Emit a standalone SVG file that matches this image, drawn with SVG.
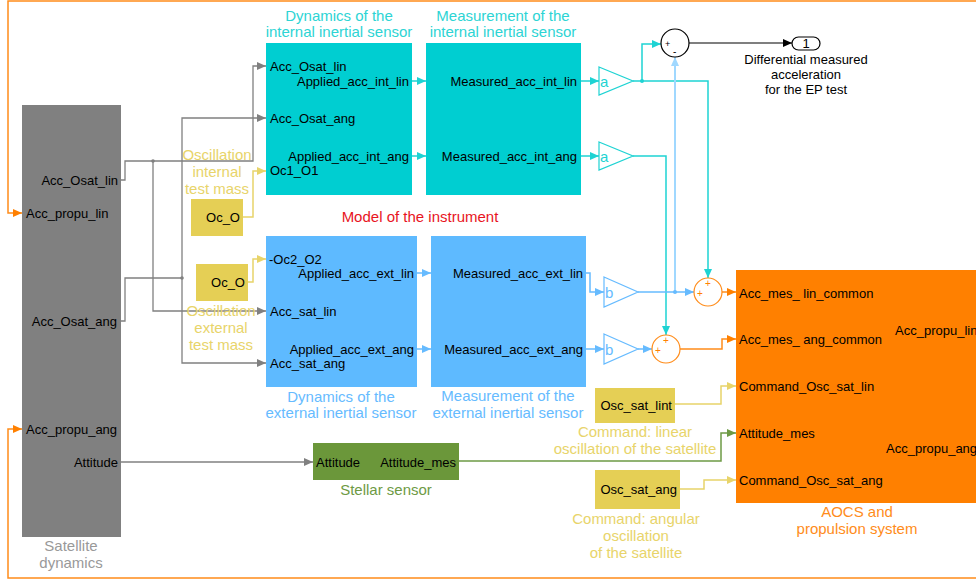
<svg xmlns="http://www.w3.org/2000/svg" width="976" height="579" viewBox="0 0 976 579">
<style>
text{font-family:"Liberation Sans",Arial,sans-serif;font-size:13px;fill:#000}
.t{font-size:15px}
.e{text-anchor:end}
.m{text-anchor:middle}
.w{fill:none;stroke-width:1.3}
.g{stroke:#808080}
.c{stroke:#1ED3D3;stroke-width:1.5}
.lb{stroke:#66BBFF;stroke-width:1.5}
.lb2{stroke:#A0D8FF;stroke-width:2}
.o{stroke:#FF8C1A;stroke-width:1.5}
.y{stroke:#E8D46A;stroke-width:1.5}
.gr{stroke:#6E9A45;stroke-width:1.5}
.k{stroke:#000;stroke-width:1.2}
</style>
<defs>
<marker id="ag" markerUnits="userSpaceOnUse" markerWidth="10" markerHeight="10" refX="9" refY="4" orient="auto"><path d="M0,0L9,4L0,8z" fill="#808080"/></marker>
<marker id="ac" markerUnits="userSpaceOnUse" markerWidth="10" markerHeight="10" refX="9" refY="4" orient="auto"><path d="M0,0L9,4L0,8z" fill="#1ED3D3"/></marker>
<marker id="al" markerUnits="userSpaceOnUse" markerWidth="10" markerHeight="10" refX="9" refY="4" orient="auto"><path d="M0,0L9,4L0,8z" fill="#66BBFF"/></marker>
<marker id="al2" markerUnits="userSpaceOnUse" markerWidth="10" markerHeight="10" refX="9" refY="4" orient="auto"><path d="M0,0L9,4L0,8z" fill="#A0D8FF"/></marker>
<marker id="ao" markerUnits="userSpaceOnUse" markerWidth="10" markerHeight="10" refX="9" refY="4" orient="auto"><path d="M0,0L9,4L0,8z" fill="#FF8000"/></marker>
<marker id="ay" markerUnits="userSpaceOnUse" markerWidth="10" markerHeight="10" refX="9" refY="4" orient="auto"><path d="M0,0L9,4L0,8z" fill="#E8D46A"/></marker>
<marker id="agr" markerUnits="userSpaceOnUse" markerWidth="10" markerHeight="10" refX="9" refY="4" orient="auto"><path d="M0,0L9,4L0,8z" fill="#6E9A45"/></marker>
<marker id="ak" markerUnits="userSpaceOnUse" markerWidth="10" markerHeight="10" refX="9" refY="4" orient="auto"><path d="M0,0L9,4L0,8z" fill="#000"/></marker>
</defs>
<rect width="976" height="579" fill="#fff"/>

<g id="connectors">
<!-- feedback orange -->
<path class="w o" d="M976,1H8V213H22" marker-end="url(#ao)"/>
<path class="w o" d="M976,578H8V429H22" marker-end="url(#ao)"/>
<!-- gray from satellite -->
<path class="w g" d="M121,180H125V161H253V66H266" marker-end="url(#ag)"/>
<path class="w g" d="M153,161V311H266" marker-end="url(#ag)"/>
<path class="w g" d="M121,321H125V278H182"/>
<path class="w g" d="M182,278V118H266" marker-end="url(#ag)"/>
<path class="w g" d="M182,278V363H266" marker-end="url(#ag)"/>
<path class="w g" d="M121,462H313" marker-end="url(#ag)"/>
<circle cx="153" cy="161" r="1.8" fill="#808080"/>
<circle cx="182" cy="278" r="1.8" fill="#808080"/>
<!-- oscillation test mass -->
<path class="w y" d="M243,217H253V171H266" marker-end="url(#ay)"/>
<path class="w y" d="M248,282H253V259H266" marker-end="url(#ay)"/>
<!-- internal -->
<path class="w c" d="M412,81H426" marker-end="url(#ac)"/>
<path class="w c" d="M412,156H426" marker-end="url(#ac)"/>
<path class="w c" d="M581,81H599" marker-end="url(#ac)"/>
<path class="w c" d="M581,156H599" marker-end="url(#ac)"/>
<path class="w c" d="M633,81H708V278" marker-end="url(#ac)"/>
<path class="w c" d="M642,81V44H661" marker-end="url(#ac)"/>
<circle cx="642" cy="81" r="2" fill="#1ED3D3"/>
<path class="w c" d="M633,156H666V335" marker-end="url(#ac)"/>
<!-- external -->
<path class="w lb" d="M417,273H431" marker-end="url(#al)"/>
<path class="w lb" d="M417,349H431" marker-end="url(#al)"/>
<path class="w lb" d="M586,273H590V292H604" marker-end="url(#al)"/>
<path class="w lb" d="M586,349H604" marker-end="url(#al)"/>
<path class="w lb" d="M638,292H694" marker-end="url(#al)"/>
<path class="w lb" d="M638,349H652" marker-end="url(#al)"/>
<path class="w lb2" d="M675,292V57" marker-end="url(#al2)"/>
<circle cx="675" cy="292" r="2" fill="#66BBFF"/>
<!-- sums to AOCS -->
<path class="w o" d="M722,292H736" marker-end="url(#ao)"/>
<path class="w o" d="M680,349H722V339H736" marker-end="url(#ao)"/>
<path class="w y" d="M675,404H721V386H736" marker-end="url(#ay)"/>
<path class="w gr" d="M459,461H721V433H736" marker-end="url(#agr)"/>
<path class="w y" d="M680,489H704V480H736" marker-end="url(#ay)"/>
<!-- output -->
<path class="w k" d="M689,43H792" marker-end="url(#ak)"/>
</g>

<g id="satellite">
<rect x="22" y="105" width="99" height="432" fill="#808080"/>
<text x="118" y="185" class="e">Acc_Osat_lin</text>
<text x="26" y="218">Acc_propu_lin</text>
<text x="117" y="326" class="e">Acc_Osat_ang</text>
<text x="26" y="434">Acc_propu_ang</text>
<text x="118" y="467" class="e">Attitude</text>
<text x="71" y="551" class="m t" style="fill:#999">Satellite</text>
<text x="71" y="568" class="m t" style="fill:#999">dynamics</text>
</g>

<g id="dyn-int">
<rect x="266" y="43" width="146" height="152" fill="#00CED1"/>
<text x="270" y="71">Acc_Osat_lin</text>
<text x="409" y="86" class="e">Applied_acc_int_lin</text>
<text x="270" y="123">Acc_Osat_ang</text>
<text x="409" y="161" class="e">Applied_acc_int_ang</text>
<text x="270" y="175">Oc1_O1</text>
<text x="339" y="21" class="m t" style="fill:#2DD4D4">Dynamics of the</text>
<text x="339" y="37" class="m t" style="fill:#2DD4D4">internal inertial sensor</text>
</g>

<g id="meas-int">
<rect x="426" y="43" width="155" height="152" fill="#00CED1"/>
<text x="577" y="86" class="e">Measured_acc_int_lin</text>
<text x="577" y="161" class="e">Measured_acc_int_ang</text>
<text x="503" y="21" class="m t" style="fill:#2DD4D4">Measurement of the</text>
<text x="503" y="37" class="m t" style="fill:#2DD4D4">internal inertial sensor</text>
</g>

<g id="osc-int">
<rect x="191" y="199" width="52" height="37" fill="#E5CF55"/>
<text x="240" y="222" class="e">Oc_O</text>
<text x="217" y="160" class="m t" style="fill:#E8D46A">Oscillation</text>
<text x="217" y="177" class="m t" style="fill:#E8D46A">internal</text>
<text x="217" y="194" class="m t" style="fill:#E8D46A">test mass</text>
</g>

<text x="420" y="222" class="m t" style="fill:#E8141E">Model of the instrument</text>

<g id="dyn-ext">
<rect x="266" y="236" width="151" height="151" fill="#5EBAFF"/>
<text x="269" y="264">-Oc2_O2</text>
<text x="414" y="278" class="e">Applied_acc_ext_lin</text>
<text x="270" y="316">Acc_sat_lin</text>
<text x="414" y="354" class="e">Applied_acc_ext_ang</text>
<text x="270" y="368">Acc_sat_ang</text>
<text x="341" y="402" class="m t" style="fill:#66BBFF">Dynamics of the</text>
<text x="341" y="418" class="m t" style="fill:#66BBFF">external inertial sensor</text>
</g>

<g id="meas-ext">
<rect x="431" y="236" width="155" height="151" fill="#5EBAFF"/>
<text x="583" y="278" class="e">Measured_acc_ext_lin</text>
<text x="583" y="354" class="e">Measured_acc_ext_ang</text>
<text x="508" y="401" class="m t" style="fill:#66BBFF">Measurement of the</text>
<text x="508" y="418" class="m t" style="fill:#66BBFF">external inertial sensor</text>
</g>

<g id="osc-ext">
<rect x="196" y="264" width="52" height="37" fill="#E5CF55"/>
<text x="245" y="287" class="e">Oc_O</text>
<text x="221" y="316" class="m t" style="fill:#E8D46A">Oscillation</text>
<text x="221" y="333" class="m t" style="fill:#E8D46A">external</text>
<text x="221" y="350" class="m t" style="fill:#E8D46A">test mass</text>
</g>

<g id="gain-a1">
<path d="M599,67L633,81L599,95z" fill="none" stroke="#1ED3D3" stroke-width="1.2"/>
<text x="600" y="87" class="t" style="fill:#1ED3D3">a</text>
</g>
<g id="gain-a2">
<path d="M599,142L633,156L599,170z" fill="none" stroke="#1ED3D3" stroke-width="1.2"/>
<text x="600" y="162" class="t" style="fill:#1ED3D3">a</text>
</g>
<g id="gain-b1">
<path d="M604,277L638,292L604,307z" fill="none" stroke="#66BBFF" stroke-width="1.2"/>
<text x="605" y="298" class="t" style="fill:#66BBFF">b</text>
</g>
<g id="gain-b2">
<path d="M604,334L638,349L604,364z" fill="none" stroke="#66BBFF" stroke-width="1.2"/>
<text x="605" y="355" class="t" style="fill:#66BBFF">b</text>
</g>

<g id="sum-diff">
<circle cx="675" cy="43" r="14" fill="#fff" stroke="#000" stroke-width="1.2"/>
<text x="665" y="47" style="font-size:9px">+</text>
<text x="673" y="55" style="font-size:10px">-</text>
</g>
<g id="sum-lin">
<circle cx="708" cy="292" r="14" fill="#fff" stroke="#FF8C1A" stroke-width="1.2"/>
<text x="697" y="297" style="font-size:10px;fill:#FF8000">+</text>
<text x="705" y="287" style="font-size:10px;fill:#FF8000">+</text>
</g>
<g id="sum-ang">
<circle cx="666" cy="349" r="14" fill="#fff" stroke="#FF8C1A" stroke-width="1.2"/>
<text x="655" y="354" style="font-size:10px;fill:#FF8000">+</text>
<text x="663" y="344" style="font-size:10px;fill:#FF8000">+</text>
</g>

<g id="out1">
<rect x="792" y="37" width="28" height="13" rx="6.5" fill="#fff" stroke="#000" stroke-width="1.2"/>
<text x="806" y="48" class="m">1</text>
<text x="806" y="64" class="m">Differential measured</text>
<text x="806" y="79" class="m">acceleration</text>
<text x="806" y="94" class="m">for the EP test</text>
</g>

<g id="stellar">
<rect x="313" y="443" width="146" height="37" fill="#6B973A"/>
<text x="316" y="467">Attitude</text>
<text x="456" y="467" class="e">Attitude_mes</text>
<text x="386" y="495" class="m t" style="fill:#6E9A45">Stellar sensor</text>
</g>

<g id="osc-sat-lin">
<rect x="595" y="388" width="80" height="35" fill="#E5CF55"/>
<text x="672" y="410" class="e">Osc_sat_lint</text>
<text x="635" y="437" class="m t" style="fill:#E8D46A">Command: linear</text>
<text x="635" y="454" class="m t" style="fill:#E8D46A">oscillation of the satellite</text>
</g>

<g id="osc-sat-ang">
<rect x="595" y="470" width="85" height="39" fill="#E5CF55"/>
<text x="677" y="494" class="e">Osc_sat_ang</text>
<text x="636" y="524" class="m t" style="fill:#E8D46A">Command: angular</text>
<text x="636" y="541" class="m t" style="fill:#E8D46A">oscillation</text>
<text x="636" y="558" class="m t" style="fill:#E8D46A">of the satellite</text>
</g>

<g id="aocs">
<rect x="736" y="270" width="260" height="233" fill="#FF8000"/>
<text x="739" y="298">Acc_mes_ lin_common</text>
<text x="739" y="344">Acc_mes_ ang_common</text>
<text x="739" y="391">Command_Osc_sat_lin</text>
<text x="739" y="438">Attitude_mes</text>
<text x="739" y="485">Command_Osc_sat_ang</text>
<text x="895" y="335">Acc_propu_lin</text>
<text x="886" y="453">Acc_propu_ang</text>
<text x="857" y="517" class="m t" style="fill:#FF8C1A">AOCS and</text>
<text x="857" y="534" class="m t" style="fill:#FF8C1A">propulsion system</text>
</g>
</svg>
